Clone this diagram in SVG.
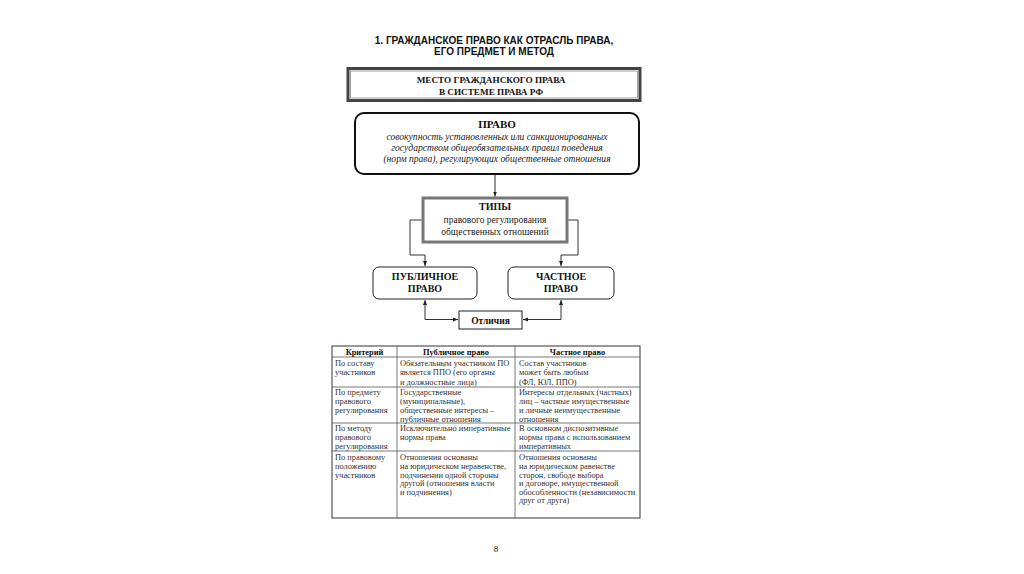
<svg xmlns="http://www.w3.org/2000/svg" width="1024" height="574" viewBox="0 0 1024 574">
<defs>
<style>
.title{font-family:"Liberation Sans",Arial,sans-serif;font-weight:bold;font-size:10px;fill:#111;text-anchor:middle}
.hb{font-family:"Liberation Serif","Times New Roman",serif;font-weight:bold;font-size:10px;fill:#111;text-anchor:middle}
.it{font-family:"Liberation Serif","Times New Roman",serif;font-style:italic;font-size:9.6px;fill:#222;text-anchor:middle}
.rg{font-family:"Liberation Serif","Times New Roman",serif;font-size:9.5px;fill:#222;text-anchor:middle}
.t{font-family:"Liberation Serif","Times New Roman",serif;font-size:8.4px;fill:#333}
.th{font-family:"Liberation Serif","Times New Roman",serif;font-size:8.4px;font-weight:bold;fill:#111;text-anchor:middle}
.ln{fill:none;stroke:#333;stroke-width:1}
.grid{stroke:#555;stroke-width:0.8}
</style>
<marker id="ah" viewBox="0 0 10 10" refX="10" refY="5" markerWidth="5" markerHeight="5" orient="auto-start-reverse" markerUnits="userSpaceOnUse">
<path d="M0,1 L10,5 L0,9 z" fill="#222"/>
</marker>
</defs>
<rect width="1024" height="574" fill="#fff"/>
<g id="title">
<text class="title" x="494" y="44">1. ГРАЖДАНСКОЕ ПРАВО КАК ОТРАСЛЬ ПРАВА,</text>
<text class="title" x="494" y="55">ЕГО ПРЕДМЕТ И МЕТОД</text>
</g>
<g id="place">
<rect x="348" y="68.5" width="292" height="32" fill="#fff" stroke="#444" stroke-width="3"/>
<rect x="350.5" y="71" width="287" height="27" fill="none" stroke="#888" stroke-width="0.8"/>
<text class="hb" x="491" y="83" style="font-size:9.2px">МЕСТО ГРАЖДАНСКОГО ПРАВА</text>
<text class="hb" x="491" y="95" style="font-size:9.2px">В СИСТЕМЕ ПРАВА РФ</text>
</g>
<g id="pravo">
<rect x="355" y="113" width="284" height="61" rx="9" fill="#fff" stroke="#111" stroke-width="2"/>
<text class="hb" x="497" y="128" style="font-size:11px">ПРАВО</text>
<text class="it" x="497" y="140">совокупность установленных или санкционированных</text>
<text class="it" x="497" y="151">государством общеобязательных правил поведения</text>
<text class="it" x="497" y="162">(норм права), регулирующих общественные отношения</text>
</g>
<g id="tipy">
<rect x="423" y="198" width="144" height="44" fill="#fff" stroke="#777" stroke-width="3"/>
<text class="hb" x="495" y="210">ТИПЫ</text>
<text class="rg" x="495" y="223">правового регулирования</text>
<text class="rg" x="495" y="235">общественных отношений</text>
</g>
<g id="public">
<rect x="373" y="267" width="104" height="32" rx="6" fill="#fff" stroke="#222" stroke-width="1"/>
<text class="hb" x="425" y="280">ПУБЛИЧНОЕ</text>
<text class="hb" x="425" y="292">ПРАВО</text>
</g>
<g id="private">
<rect x="508" y="267" width="106" height="32" rx="6" fill="#fff" stroke="#222" stroke-width="1"/>
<text class="hb" x="561" y="280">ЧАСТНОЕ</text>
<text class="hb" x="561" y="292">ПРАВО</text>
</g>
<g id="otlichiya">
<rect x="459" y="311" width="63" height="18" fill="#fff" stroke="#222" stroke-width="1"/>
<text class="hb" x="490.5" y="324" style="font-size:9.5px">Отличия</text>
</g>
<g id="connectors">
<path class="ln" d="M495,175 V196.5" marker-end="url(#ah)"/>
<path class="ln" d="M421.5,220 H410 V255 H425 V266" marker-end="url(#ah)"/>
<path class="ln" d="M568.5,220 H578 V255 H561 V266" marker-end="url(#ah)"/>
<path class="ln" d="M425,300 V319.5 H458" marker-start="url(#ah)" marker-end="url(#ah)"/>
<path class="ln" d="M561,300 V319.5 H523" marker-start="url(#ah)" marker-end="url(#ah)"/>
</g>
<g id="table">
<rect x="332" y="346" width="308" height="172" fill="#fff" stroke="#333" stroke-width="1"/>
<line class="grid" x1="397" y1="346" x2="397" y2="518"/>
<line class="grid" x1="515" y1="346" x2="515" y2="518"/>
<line class="grid" x1="332" y1="357" x2="640" y2="357"/>
<line class="grid" x1="332" y1="387" x2="640" y2="387"/>
<line class="grid" x1="332" y1="423" x2="640" y2="423"/>
<line class="grid" x1="332" y1="451" x2="640" y2="451"/>
<text class="th" x="364.5" y="355">Критерий</text>
<text class="th" x="456" y="355">Публичное право</text>
<text class="th" x="577.5" y="355">Частное право</text>
<text class="t" x="335" y="365.5">По составу</text>
<text class="t" x="335" y="375">участников</text>
<text class="t" x="400" y="365.5">Обязательным участником ПО</text>
<text class="t" x="400" y="375">является ППО (его органы</text>
<text class="t" x="400" y="384.5">и должностные лица)</text>
<text class="t" x="519" y="365.5">Состав участников</text>
<text class="t" x="519" y="375">может быть любым</text>
<text class="t" x="519" y="384.5">(ФЛ, ЮЛ, ППО)</text>
<text class="t" x="335" y="395">По предмету</text>
<text class="t" x="335" y="404">правового</text>
<text class="t" x="335" y="413">регулирования</text>
<text class="t" x="400" y="395">Государственные</text>
<text class="t" x="400" y="404">(муниципальные),</text>
<text class="t" x="400" y="413">общественные интересы –</text>
<text class="t" x="400" y="421.5">публичные отношения</text>
<text class="t" x="519" y="395">Интересы отдельных (частных)</text>
<text class="t" x="519" y="404">лиц – частные имущественные</text>
<text class="t" x="519" y="413">и личные неимущественные</text>
<text class="t" x="519" y="421.5">отношения</text>
<text class="t" x="335" y="430.5">По методу</text>
<text class="t" x="335" y="439.5">правового</text>
<text class="t" x="335" y="448.5">регулирования</text>
<text class="t" x="400" y="430.5">Исключительно императивные</text>
<text class="t" x="400" y="439.5">нормы права</text>
<text class="t" x="519" y="430.5">В основном диспозитивные</text>
<text class="t" x="519" y="439.5">нормы права с использованием</text>
<text class="t" x="519" y="448.5">императивных</text>
<text class="t" x="335" y="459.5">По правовому</text>
<text class="t" x="335" y="468.5">положению</text>
<text class="t" x="335" y="477.5">участников</text>
<text class="t" x="400" y="459.5">Отношения основаны</text>
<text class="t" x="400" y="468.5">на юридическом неравенстве,</text>
<text class="t" x="400" y="477.5">подчинении одной стороны</text>
<text class="t" x="400" y="486">другой (отношения власти</text>
<text class="t" x="400" y="494.5">и подчинения)</text>
<text class="t" x="519" y="459.5">Отношения основаны</text>
<text class="t" x="519" y="468.5">на юридическом равенстве</text>
<text class="t" x="519" y="477.5">сторон, свободе выбора</text>
<text class="t" x="519" y="486">и договоре, имущественной</text>
<text class="t" x="519" y="494.5">обособленности (независимости</text>
<text class="t" x="519" y="503">друг от друга)</text>
</g>
<g id="page">
<text class="rg" x="496" y="552" style="font-size:9px">8</text>
</g>
</svg>
